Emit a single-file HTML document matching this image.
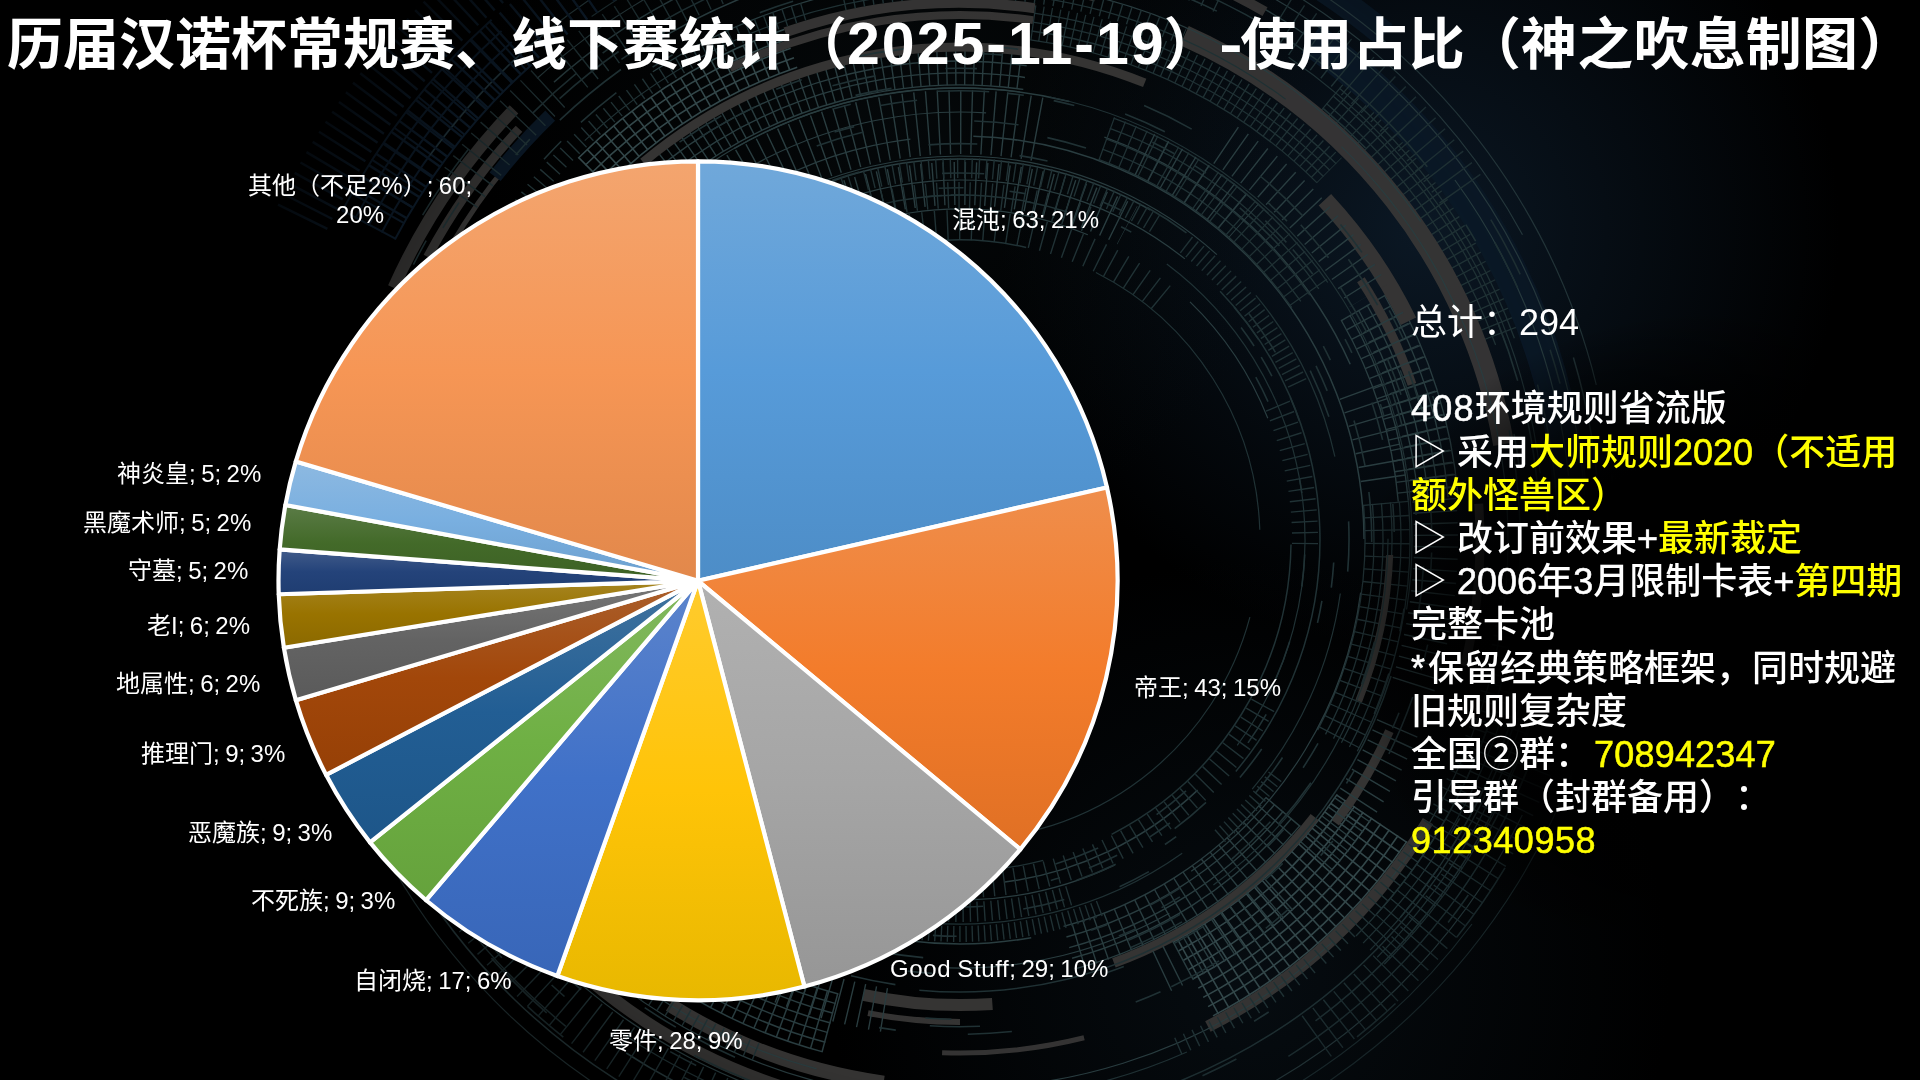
<!DOCTYPE html>
<html lang="zh-CN">
<head>
<meta charset="utf-8">
<title>历届汉诺杯常规赛、线下赛统计</title>
<style>
html,body{margin:0;padding:0;background:#000;}
body{width:1920px;height:1080px;position:relative;overflow:hidden;color:#fff;text-spacing-trim:space-all;
 font-family:"Liberation Sans","Noto Sans CJK SC",sans-serif;}
.bg,.pie{position:absolute;left:0;top:0;}
h1{position:absolute;left:6.5px;top:3px;margin:0;font-size:56px;line-height:84px;font-weight:700;white-space:nowrap;letter-spacing:0;}
h1 span{line-height:0;}
h1 .dt{font-size:59px;letter-spacing:2px;margin-right:-1.7px;}
h1 .hy{font-size:70px;display:inline-block;transform:scaleY(.78);position:relative;top:3.5px;margin:0 -2.4px 0 -.6px;}
.lb{position:absolute;font-size:24px;line-height:36px;white-space:nowrap;word-spacing:-1.2px;}
.side{position:absolute;left:1411px;top:301px;font-size:36px;line-height:43.2px;font-weight:500;white-space:nowrap;}
.side .n{font-weight:400;}
h1,.lb,.side{will-change:transform;}
.y{color:#FFFF00;}
.m{-webkit-text-stroke:.55px currentColor;}
</style>
</head>
<body>
<svg class="bg" width="1920" height="1080" viewBox="0 0 1920 1080">
<defs>
<radialGradient id="vg" gradientUnits="userSpaceOnUse" cx="980" cy="520" r="860">
<stop offset="0" stop-color="#fff"/><stop offset=".66" stop-color="#fff" stop-opacity=".95"/><stop offset=".8" stop-color="#fff" stop-opacity=".55"/><stop offset="1" stop-color="#fff" stop-opacity="0"/>
</radialGradient>
<radialGradient id="hz1" gradientUnits="userSpaceOnUse" cx="1420" cy="230" r="420">
<stop offset="0" stop-color="#0c1a28" stop-opacity=".9"/><stop offset="1" stop-color="#0c1a28" stop-opacity="0"/>
</radialGradient>
<radialGradient id="hz2" gradientUnits="userSpaceOnUse" cx="900" cy="120" r="420">
<stop offset="0" stop-color="#0a1216" stop-opacity=".45"/><stop offset="1" stop-color="#0a1216" stop-opacity="0"/>
</radialGradient>
<radialGradient id="hz3" gradientUnits="userSpaceOnUse" cx="1250" cy="980" r="420">
<stop offset="0" stop-color="#0a141c" stop-opacity=".6"/><stop offset="1" stop-color="#0a141c" stop-opacity="0"/>
</radialGradient>
<radialGradient id="sh" cx=".5" cy=".5" r=".5">
<stop offset="0" stop-color="#000"/><stop offset=".55" stop-color="#000"/><stop offset=".72" stop-color="#000" stop-opacity=".72"/><stop offset=".85" stop-color="#000" stop-opacity=".4"/><stop offset="1" stop-color="#000" stop-opacity="0"/>
</radialGradient>
<mask id="vm" maskUnits="userSpaceOnUse" x="0" y="0" width="1920" height="1080"><rect width="1920" height="1080" fill="url(#vg)"/></mask>
</defs>
<rect width="1920" height="1080" fill="url(#hz1)"/>
<rect width="1920" height="1080" fill="url(#hz2)"/>
<rect width="1920" height="1080" fill="url(#hz3)"/>
<g fill="none" mask="url(#vm)">
<path d="M606.4 186.4A500 500 0 0 1 797.2 67.2M599.4 179.4A510 510 0 0 1 794.0 57.8M592.3 172.3A520 520 0 0 1 790.7 48.3M585.2 165.2A530 530 0 0 1 787.4 38.9M578.2 158.2A540 540 0 0 1 784.2 29.4M1337.2 794.4A455 455 0 0 1 1173.6 941.7M1345.9 800.3A465.5 465.5 0 0 1 1178.5 951.0M1354.6 806.2A476 476 0 0 1 1183.5 960.3M1363.3 812.0A486.5 486.5 0 0 1 1188.4 969.6M1372.0 817.9A497 497 0 0 1 1193.3 978.8M1380.7 823.8A507.5 507.5 0 0 1 1198.3 988.1M1389.4 829.7A518 518 0 0 1 1203.2 997.4M1398.1 835.5A528.5 528.5 0 0 1 1208.1 1006.6M1406.9 841.4A539 539 0 0 1 1213.0 1015.9" stroke="#354a4d" stroke-width="1.6"/>
<path d="M592.3 172.3A520 520 0 0 1 790.7 48.3" stroke="#354a4d" stroke-width="40" stroke-dasharray="1.6 9.74"/>
<path d="M679.9 181.5A455 455 0 0 1 1023.3 89.4M672.5 172.0A467 467 0 0 1 1025.0 77.5M665.1 162.5A479 479 0 0 1 1026.7 65.7M1266.4 797.1A400 400 0 0 1 1063.5 926.4M1274.8 804.2A411 411 0 0 1 1066.4 937.0M1283.3 811.3A422 422 0 0 1 1069.2 947.6M1291.7 818.3A433 433 0 0 1 1072.1 958.2M1300.1 825.4A444 444 0 0 1 1074.9 968.9M1341.1 320.0A440 440 0 0 1 1398.3 501.7M1349.7 315.0A450 450 0 0 1 1408.3 500.8M1358.4 310.0A460 460 0 0 1 1418.2 499.9M1367.0 305.0A470 470 0 0 1 1428.2 499.0M1375.7 300.0A480 480 0 0 1 1438.2 498.2M1384.4 295.0A490 490 0 0 1 1448.1 497.3M1393.0 290.0A500 500 0 0 1 1458.1 496.4" stroke="#2b3f42" stroke-width="1.4"/>
<path d="M669.1 167.7A472.5 472.5 0 0 1 1025.8 72.1" stroke="#2b3f42" stroke-width="35" stroke-dasharray="1.4 7.67"/>
<path d="M1372.4 818.2A497.5 497.5 0 0 1 1193.6 979.3" stroke="#354a4d" stroke-width="85" stroke-dasharray="1.6 9.69"/>
<path d="M1283.7 811.6A422.5 422.5 0 0 1 1069.4 948.1" stroke="#2b3f42" stroke-width="45" stroke-dasharray="1.4 10.40"/>
<path d="M838.4 994.0A470 470 0 0 1 690.4 925.0M835.8 1003.6A480 480 0 0 1 684.7 933.2M833.2 1013.3A490 490 0 0 1 678.9 941.4M830.6 1023.0A500 500 0 0 1 673.2 949.6M828.0 1032.6A510 510 0 0 1 667.5 957.8M825.4 1042.3A520 520 0 0 1 661.7 966.0M822.8 1051.9A530 530 0 0 1 656.0 974.2M741.5 227.9A381 381 0 0 1 1150.5 210.0M734.0 148.6A452 452 0 0 1 1069.3 101.4M1197.6 790.1A345 345 0 0 1 1004.8 882.1M977.5 884.6A345 345 0 0 1 661.2 712.5M973.3 136.2A404 404 0 0 1 1364.0 538.9M1031.2 937.7A404 404 0 0 1 790.7 906.8M1104.4 137.1A428 428 0 0 1 1350.2 364.2M645.8 47.7A584 584 0 0 1 1082.2 -31.1M554.0 82.1A612 612 0 0 1 1376.3 91.4M1064.5 1143.0A612 612 0 0 1 626.2 1053.0M1573.4 357.5A640 640 0 0 1 1572.9 724.2M659.1 1104.8A640 640 0 0 1 405.7 860.0" stroke="#2b3f42" stroke-width="1.5"/>
<path d="M830.6 1023.0A500 500 0 0 1 673.2 949.6" stroke="#2b3f42" stroke-width="60" stroke-dasharray="1.5 9.84"/>
<path d="M1367.0 305.0A470 470 0 0 1 1428.2 499.0" stroke="#2b3f42" stroke-width="60" stroke-dasharray="1.4 10.08"/>
<path d="M1320.0 111.0A560 560 0 0 1 1486.2 348.5M1326.4 103.4A570 570 0 0 1 1495.6 345.0M1332.8 95.7A580 580 0 0 1 1505.0 341.6M1339.2 88.0A590 590 0 0 1 1514.4 338.2M1345.7 80.4A600 600 0 0 1 1523.8 334.8M1352.1 72.7A610 610 0 0 1 1533.2 331.4M1030.3 39.9A505 505 0 0 1 1317.1 182.9M1031.5 31.0A514 514 0 0 1 1323.5 176.5M1032.8 22.1A523 523 0 0 1 1329.8 170.2M1034.0 13.2A532 532 0 0 1 1336.2 163.8M1098.5 159.4A405 405 0 0 1 1291.8 307.7M1102.3 149.1A416 416 0 0 1 1300.8 301.4M1106.0 138.8A427 427 0 0 1 1309.8 295.1M1109.8 128.4A438 438 0 0 1 1318.8 288.8M1113.6 118.1A449 449 0 0 1 1327.8 282.5M1511.5 637.2A560 560 0 0 1 1356.0 936.0M1521.3 639.0A570 570 0 0 1 1363.1 943.1M1531.2 640.7A580 580 0 0 1 1370.1 950.1M1541.0 642.5A590 590 0 0 1 1377.2 957.2M1550.9 644.2A600 600 0 0 1 1384.3 964.3M1363.5 504.7A405 405 0 0 1 1317.6 730.1M1372.4 503.9A414 414 0 0 1 1325.5 734.4M1381.4 503.1A423 423 0 0 1 1333.5 738.6M1390.4 502.3A432 432 0 0 1 1341.4 742.8M1399.3 501.6A441 441 0 0 1 1349.4 747.0M1408.3 500.8A450 450 0 0 1 1357.3 751.3" stroke="#213336" stroke-width="1.3"/>
<path d="M1336.0 91.9A585 585 0 0 1 1509.7 339.9" stroke="#213336" stroke-width="50" stroke-dasharray="1.3 8.91"/>
<path d="M1032.7 22.6A522.5 522.5 0 0 1 1329.5 170.5" stroke="#213336" stroke-width="35" stroke-dasharray="1.3 6.91"/>
<path d="M1106.2 138.3A427.5 427.5 0 0 1 1310.2 294.8" stroke="#213336" stroke-width="45" stroke-dasharray="1.3 9.89"/>
<path d="M1531.2 640.7A580 580 0 0 1 1370.1 950.1" stroke="#213336" stroke-width="40" stroke-dasharray="1.3 9.84"/>
<path d="M394.9 239.5A640 640 0 0 1 531.8 64.4M381.7 232.5A655 655 0 0 1 521.7 53.2M368.4 225.5A670 670 0 0 1 511.7 42.1M355.2 218.4A685 685 0 0 1 501.6 30.9M341.9 211.4A700 700 0 0 1 491.6 19.8" stroke="#0f2031" stroke-width="2"/>
<path d="M368.4 225.5A670 670 0 0 1 511.7 42.1" stroke="#0f2031" stroke-width="60" stroke-dasharray="2 16.71"/>
<path d="M1385.9 502.7A427.5 427.5 0 0 1 1337.5 740.7" stroke="#213336" stroke-width="45" stroke-dasharray="1.3 12.13"/>
<path d="M755.5 248.0A356.5 356.5 0 0 1 1127.4 225.2" stroke="#2b3f42" stroke-width="43" stroke-dasharray="1.4 9.18"/>
<path d="M751.0 178.0A418 418 0 0 1 1046.9 131.1" stroke="#2b3f42" stroke-width="64" stroke-dasharray="1.4 9.54"/>
<path d="M852.3 244.0A315 315 0 0 1 1162.5 298.7" stroke="#213336" stroke-width="30" stroke-dasharray="1.4 10.70"/>
<path d="M643.1 162.3A493 493 0 0 1 1144.7 82.9M427.6 256.9A603 603 0 0 1 519.0 128.8M1389.4 731.2A470 470 0 0 1 1335.4 822.9M1360.9 279.7A478 478 0 0 1 1412.0 384.4M1478.7 503.7A520 520 0 0 1 1464.6 665.8" stroke="#373635" stroke-width="9"/>
<path d="M785.2 32.3A537 537 0 0 1 1034.7 8.2M1314.6 817.0A450 450 0 0 1 1113.9 962.9M843.6 -7.8A560 560 0 0 1 1095.5 -3.4M1023.8 -66.7A610 610 0 0 1 1265.0 11.7" stroke="#373635" stroke-width="10"/>
<path d="M729.9 68.1A525 525 0 0 1 1033.1 20.1" stroke="#373635" stroke-width="8"/>
<path d="M1184.5 35.7A552 552 0 0 1 1503.6 444.1" stroke="#373635" stroke-width="21"/>
<path d="M393.6 287.8A620 620 0 0 1 514.0 109.3M1428.0 821.2A546 546 0 0 1 1207.9 1026.5M782.3 1086.9A575 575 0 0 1 575.2 967.3M992.4 1003.9A465 465 0 0 1 863.3 994.8" stroke="#373635" stroke-width="12"/>
<path d="M450.8 246.0A588 588 0 0 1 509.6 162.0M1084.1 1037.8A513 513 0 0 1 942.1 1052.7" stroke="#373635" stroke-width="5"/>
<path d="M883.7 1082.7A548 548 0 0 1 669.6 1004.7M909.0 -42.8A585 585 0 0 1 1081.6 -32.2" stroke="#373635" stroke-width="14"/>
<path d="M960.0 1022.0A482 482 0 0 1 868.0 1013.1" stroke="#373635" stroke-width="6"/>
<path d="M1324.9 199.7A499 499 0 0 1 1408.5 321.3" stroke="#373635" stroke-width="17"/>
<path d="M1389.7 555.0A430 430 0 0 1 1358.7 701.1" stroke="#373635" stroke-width="7"/>
<path d="M1311.0 38.7A612 612 0 0 1 1569.7 486.7" stroke="#0a1826" stroke-width="34"/>
<path d="M495.1 176.8A590 590 0 0 1 550.2 115.6" stroke="#0a1826" stroke-width="14"/>
<path d="M1074.6 -110.0A660 660 0 0 1 1384.2 34.4" stroke="#0a1826" stroke-width="26"/>
<path d="M742.6 333.2A300 300 0 0 1 1026.2 247.4M1291.0 544.5A331 331 0 0 1 1111.6 834.3M737.7 276.2A345 345 0 0 1 1031.1 202.4M1220.1 291.2A360 360 0 0 1 1235.8 771.4M675.5 826.8A404 404 0 0 1 610.1 742.0M1391.1 675.9A452 452 0 0 1 919.3 990.2M1509.1 430.1A560 560 0 0 1 1376.7 914.1M1536.7 631.8A584 584 0 0 1 1132.8 1097.9M659.2 23.2A598 598 0 0 1 1427.3 166.8M1537.5 384.6A598 598 0 0 1 1315.5 1020.9M1554.9 683.6A612 612 0 0 1 1288.4 1056.4M565.8 1026.3A626 626 0 0 1 417.9 853.0" stroke="#213336" stroke-width="1.5"/>
<path d="M1095.9 272.5A300 300 0 0 1 1259.8 529.8M1249.9 617.2A300 300 0 0 1 957.8 840.0M907.5 835.4A300 300 0 0 1 781.8 781.4M1043.2 860.4A331 331 0 0 1 673.3 705.5M1166.8 263.9A345 345 0 0 1 1237.2 745.4M716.8 805.4A360 360 0 0 1 648.2 720.0M1255.9 295.3A384 384 0 0 1 1334.9 456.7M1340.3 593.5A384 384 0 0 1 1252.2 789.1M1182.2 853.2A384 384 0 0 1 650.9 767.8M1388.0 538.8A428 428 0 0 1 1213.4 885.0M810.3 941.0A428 428 0 0 1 624.7 806.0M1049.8 97.0A452 452 0 0 1 1406.6 609.5M584.7 140.6A548 548 0 0 1 1285.6 99.2M1186.9 1052.0A560 560 0 0 1 983.6 1099.5M1288.6 57.2A584 584 0 0 1 1540.2 473.3M1196.5 1089.3A598 598 0 0 1 620.5 1032.3M1086.3 1153.1A626 626 0 0 1 669.8 1094.7M591.6 16.6A640 640 0 0 1 1008.3 -98.2M1472.0 924.0A640 640 0 0 1 713.6 1130.7M1611.7 474.6A655 655 0 0 1 1197.1 1150.6" stroke="#213336" stroke-width="1.2"/>
<path d="M745.6 287.9A331 331 0 0 1 1087.8 234.7M1190.0 301.9A331 331 0 0 1 1267.8 418.3M690.8 301.0A360 360 0 0 1 1184.9 258.9M1114.6 865.1A360 360 0 0 1 822.9 872.9M761.8 211.1A384 384 0 0 1 1216.9 254.6M623.1 317.0A404 404 0 0 1 910.4 139.1M1360.6 592.6A404 404 0 0 1 1191.2 871.3M599.8 308.8A428 428 0 0 1 986.1 112.8M1169.3 913.3A428 428 0 0 1 948.7 967.9M658.2 203.5A452 452 0 0 1 1019.8 92.0M808.4 965.8A452 452 0 0 1 568.6 766.0M1341.5 146.6A548 548 0 0 1 1390.8 878.6M1333.1 941.4A548 548 0 0 1 881.0 1082.3M816.6 1068.9A548 548 0 0 1 485.4 814.0M652.8 71.8A560 560 0 0 1 1420.7 221.7M939.8 1099.6A560 560 0 0 1 572.1 943.9M540.6 911.1A560 560 0 0 1 475.0 820.0M974.2 1123.8A584 584 0 0 1 454.2 832.0M496.4 917.8A598 598 0 0 1 442.1 839.0M1454.9 180.0A612 612 0 0 1 1568.6 475.9M491.1 933.3A612 612 0 0 1 430.0 846.0M537.0 78.5A626 626 0 0 1 956.1 -86.0M1106.9 -68.5A626 626 0 0 1 1585.6 563.7M1522.3 815.1A626 626 0 0 1 1220.2 1109.4M1177.7 -61.8A640 640 0 0 1 1522.5 234.8M430.0 155.2A655 655 0 0 1 951.3 -114.9M1171.6 -79.9A655 655 0 0 1 1596.3 384.8M954.9 1195.0A655 655 0 0 1 392.8 867.5" stroke="#2b3f42" stroke-width="1.2"/>
<path d="M689.6 325.8A345 345 0 0 1 814.9 227.0" stroke="#213336" stroke-width="26" stroke-dasharray="1.4 9.44"/>
<path d="M821.4 224.1A345 345 0 0 1 1089.4 220.2" stroke="#213336" stroke-width="26" stroke-dasharray="1.4 9.44"/>
<path d="M1277.7 405.5A345 345 0 0 1 1304.8 552.6" stroke="#213336" stroke-width="26" stroke-dasharray="1.4 9.44"/>
<path d="M1263.1 704.8A345 345 0 0 1 1045.5 874.2" stroke="#213336" stroke-width="26" stroke-dasharray="1.4 9.44"/>
<path d="M1037.0 876.3A345 345 0 0 1 876.9 874.8" stroke="#213336" stroke-width="26" stroke-dasharray="1.4 9.44"/>
<path d="M714.0 261.0A372 372 0 0 1 854.9 183.2" stroke="#213336" stroke-width="20" stroke-dasharray="1.4 5.74"/>
<path d="M865.2 180.3A372 372 0 0 1 1158.2 225.2" stroke="#213336" stroke-width="20" stroke-dasharray="1.4 5.74"/>
<path d="M1185.9 244.5A372 372 0 0 1 1299.0 386.9" stroke="#213336" stroke-width="20" stroke-dasharray="1.4 5.74"/>
<path d="M1069.3 895.6A372 372 0 0 1 828.7 888.1" stroke="#213336" stroke-width="20" stroke-dasharray="1.4 5.74"/>
<path d="M1275.3 776.3A394 394 0 0 1 1218.3 837.5" stroke="#213336" stroke-width="16" stroke-dasharray="1.4 4.79"/>
<path d="M1099.9 908.3A394 394 0 0 1 770.2 885.3" stroke="#213336" stroke-width="16" stroke-dasharray="1.4 4.79"/>
<path d="M585.0 334.7A427.5 427.5 0 0 1 742.6 171.9" stroke="#2b3f42" stroke-width="45" stroke-dasharray="1.4 13.52"/>
<path d="M1144.3 154.3A427.5 427.5 0 0 1 1244.2 220.7" stroke="#2b3f42" stroke-width="45" stroke-dasharray="1.4 13.52"/>
<path d="M1360.7 391.0A427.5 427.5 0 0 1 1384.3 487.5" stroke="#2b3f42" stroke-width="45" stroke-dasharray="1.4 13.52"/>
<path d="M1225.5 144.9A476 476 0 0 1 1368.5 295.6" stroke="#2b3f42" stroke-width="44" stroke-dasharray="1.4 10.23"/>
<path d="M1383.1 321.9A476 476 0 0 1 1411.2 691.6" stroke="#2b3f42" stroke-width="44" stroke-dasharray="1.4 10.23"/>
<path d="M1397.4 727.8A476 476 0 0 1 1310.2 862.4" stroke="#2b3f42" stroke-width="44" stroke-dasharray="1.4 10.23"/>
<path d="M1278.7 893.5A476 476 0 0 1 1161.2 971.4" stroke="#2b3f42" stroke-width="44" stroke-dasharray="1.4 10.23"/>
<path d="M884.6 1010.0A476 476 0 0 1 606.9 859.2" stroke="#2b3f42" stroke-width="44" stroke-dasharray="1.4 10.23"/>
<path d="M586.6 835.3A476 476 0 0 1 570.1 813.0" stroke="#2b3f42" stroke-width="44" stroke-dasharray="1.4 10.23"/>
<path d="M484.6 261.5A551 551 0 0 1 804.1 11.5" stroke="#213336" stroke-width="18" stroke-dasharray="1.4 8.22"/>
<path d="M843.5 1.5A551 551 0 0 1 1183.3 36.3" stroke="#213336" stroke-width="18" stroke-dasharray="1.4 8.22"/>
<path d="M1510.2 569.3A551 551 0 0 1 1318.3 958.6" stroke="#213336" stroke-width="18" stroke-dasharray="1.4 8.22"/>
<path d="M1309.9 965.6A551 551 0 0 1 1175.8 1047.0" stroke="#213336" stroke-width="18" stroke-dasharray="1.4 8.22"/>
<path d="M756.2 1051.9A551 551 0 0 1 625.5 977.8" stroke="#213336" stroke-width="18" stroke-dasharray="1.4 8.22"/>
<path d="M606.3 962.5A551 551 0 0 1 508.6 856.0" stroke="#213336" stroke-width="18" stroke-dasharray="1.4 8.22"/>
<path d="M456.5 193.8A611 611 0 0 1 551.7 85.5" stroke="#213336" stroke-width="50" stroke-dasharray="1.4 12.46"/>
<path d="M571.4 68.5A611 611 0 0 1 814.0 -53.3" stroke="#213336" stroke-width="50" stroke-dasharray="1.4 12.46"/>
<path d="M871.9 -64.6A611 611 0 0 1 1234.4 -5.9" stroke="#213336" stroke-width="50" stroke-dasharray="1.4 12.46"/>
<path d="M1278.7 18.7A611 611 0 0 1 1465.0 196.1" stroke="#213336" stroke-width="50" stroke-dasharray="1.4 12.46"/>
<path d="M1527.7 766.0A611 611 0 0 1 1307.3 1042.7" stroke="#213336" stroke-width="50" stroke-dasharray="1.4 12.46"/>
<path d="M823.8 1135.6A611 611 0 0 1 459.5 890.5" stroke="#213336" stroke-width="50" stroke-dasharray="1.4 12.46"/>
<path d="M380.2 204.2A670 670 0 0 1 586.7 -16.4" stroke="#0f2031" stroke-width="60" stroke-dasharray="2.4 10.46"/>
<path d="M597.3 -23.4A670 670 0 0 1 810.3 -113.1" stroke="#0f2031" stroke-width="60" stroke-dasharray="2.4 10.46"/>
<path d="M865.3 -123.3A670 670 0 0 1 1137.2 -106.1" stroke="#0f2031" stroke-width="60" stroke-dasharray="2.4 10.46"/>
<path d="M302.2 217.8A732.5 732.5 0 0 1 765.8 -166.3" stroke="#0f2031" stroke-width="55" stroke-dasharray="2.4 9.11"/>
<path d="M781.9 -170.5A732.5 732.5 0 0 1 1129.2 -172.7" stroke="#0f2031" stroke-width="55" stroke-dasharray="2.4 9.11"/>
<path d="M675.3 358.4A337.667 337.667 0 0 1 682.5 347.6M759.2 268.5A337.667 337.667 0 0 1 766.8 263.1M1255.8 377.1A337.667 337.667 0 0 1 1268.0 401.6M1186.0 790.9A337.667 337.667 0 0 1 1156.6 814.6M1098.2 848.1A337.667 337.667 0 0 1 1055.5 863.9M923.1 875.6A337.667 337.667 0 0 1 900.6 872.4M727.7 785.1A337.667 337.667 0 0 1 717.7 775.2M661.4 367.1A345 345 0 0 1 684.7 332.0M757.6 260.6A345 345 0 0 1 774.1 249.4M922.9 197.0A345 345 0 0 1 942.1 195.5M950.6 195.1A345 345 0 0 1 968.3 195.1M1024.1 201.0A345 345 0 0 1 1067.4 212.1M1299.5 478.4A345 345 0 0 1 1301.8 493.1M1304.7 554.4A345 345 0 0 1 1301.8 586.6M1289.7 641.5A345 345 0 0 1 1275.2 680.2M737.1 267.2A352.333 352.333 0 0 1 760.9 249.3M938.7 188.3A352.333 352.333 0 0 1 963.5 187.7M1009.5 191.2A352.333 352.333 0 0 1 1025.5 193.8M1121.1 226.7A352.333 352.333 0 0 1 1131.3 232.1M1241.1 327.5A352.333 352.333 0 0 1 1254.1 346.0M1261.2 357.2A352.333 352.333 0 0 1 1271.9 376.2M1266.2 714.3A352.333 352.333 0 0 1 1248.0 742.9M1169.9 823.0A352.333 352.333 0 0 1 1149.9 836.8M1117.2 855.3A352.333 352.333 0 0 1 1089.0 867.9M1060.0 877.8A352.333 352.333 0 0 1 1050.8 880.4M983.2 891.6A352.333 352.333 0 0 1 937.4 891.6M729.0 806.0A352.333 352.333 0 0 1 713.3 791.6M662.3 338.2A359.667 359.667 0 0 1 686.6 306.3M1234.0 307.0A359.667 359.667 0 0 1 1258.7 339.6M1290.2 397.3A359.667 359.667 0 0 1 1299.5 421.3M1206.0 802.3A359.667 359.667 0 0 1 1174.7 828.6M1115.7 864.2A359.667 359.667 0 0 1 1076.5 880.3M976.5 899.3A359.667 359.667 0 0 1 943.7 899.3M923.4 897.8A359.667 359.667 0 0 1 877.3 890.0M690.9 778.7A359.667 359.667 0 0 1 684.3 770.9M820.4 200.6A367 367 0 0 1 832.0 196.0M942.0 173.4A367 367 0 0 1 984.2 173.8M1103.5 202.2A367 367 0 0 1 1123.4 211.4M1248.8 313.5A367 367 0 0 1 1275.4 352.4M1321.9 600.9A367 367 0 0 1 1317.5 622.9M1261.7 749.0A367 367 0 0 1 1239.9 777.4M1176.2 836.6A367 367 0 0 1 1164.9 844.5M983.2 906.3A367 367 0 0 1 965.0 907.0M770.8 854.5A367 367 0 0 1 735.8 830.5M680.9 778.3A367 367 0 0 1 661.4 753.4M656.0 321.6A374.333 374.333 0 0 1 670.5 302.6M679.6 292.0A374.333 374.333 0 0 1 707.7 263.5M742.9 235.1A374.333 374.333 0 0 1 761.6 222.6M1333.7 562.5A374.333 374.333 0 0 1 1331.3 587.6M1064.3 899.5A374.333 374.333 0 0 1 1023.2 909.0M699.7 260.9A381.667 381.667 0 0 1 734.9 231.8M832.3 180.3A381.667 381.667 0 0 1 859.2 171.9M1147.4 207.5A381.667 381.667 0 0 1 1186.5 232.8M1148.9 871.6A381.667 381.667 0 0 1 1119.6 886.7M714.7 832.4A381.667 381.667 0 0 1 679.3 798.6M1019.5 155.6A389 389 0 0 1 1047.5 161.0M1310.2 370.7A389 389 0 0 1 1328.9 416.7M1348.6 521.4A389 389 0 0 1 1347.7 571.6M1282.5 757.5A389 389 0 0 1 1255.2 793.3M620.4 335.7A396.333 396.333 0 0 1 632.3 317.0M928.5 144.9A396.333 396.333 0 0 1 977.3 144.0M1316.0 365.9A396.333 396.333 0 0 1 1327.2 390.9M956.6 936.3A396.333 396.333 0 0 1 932.9 935.4M861.9 924.0A396.333 396.333 0 0 1 834.0 915.8M723.1 857.7A396.333 396.333 0 0 1 707.2 845.3M722.4 203.7A411.75 411.75 0 0 1 746.2 188.1M1047.4 137.6A411.75 411.75 0 0 1 1086.0 148.0M1323.3 346.2A411.75 411.75 0 0 1 1330.4 360.2M1354.0 420.4A411.75 411.75 0 0 1 1365.1 466.1M1368.9 492.0A411.75 411.75 0 0 1 1371.7 541.9M1318.0 743.3A411.75 411.75 0 0 1 1303.1 767.7M1179.6 888.3A411.75 411.75 0 0 1 1150.4 905.1M1106.9 924.7A411.75 411.75 0 0 1 1091.1 930.3M684.4 224.1A419.25 419.25 0 0 1 705.9 206.5M816.7 146.0A419.25 419.25 0 0 1 863.6 132.0M974.2 121.0A419.25 419.25 0 0 1 1018.5 124.8M1270.4 821.8A419.25 419.25 0 0 1 1231.8 859.2M1179.9 896.9A419.25 419.25 0 0 1 1161.6 907.6M923.2 957.6A419.25 419.25 0 0 1 880.2 951.6M834.5 940.0A419.25 419.25 0 0 1 803.0 928.7M752.6 904.3A419.25 419.25 0 0 1 732.2 892.0M717.0 189.2A426.75 426.75 0 0 1 730.5 180.2M834.5 132.1A426.75 426.75 0 0 1 854.2 126.6M1374.5 641.6A426.75 426.75 0 0 1 1361.5 684.5M1310.9 782.8A426.75 426.75 0 0 1 1278.4 824.1M1136.2 928.7A426.75 426.75 0 0 1 1118.8 936.1M846.9 951.5A426.75 426.75 0 0 1 794.0 933.1M713.6 888.4A426.75 426.75 0 0 1 679.0 861.2M722.3 176.6A434.25 434.25 0 0 1 739.1 166.1M1239.8 207.9A434.25 434.25 0 0 1 1279.5 245.9M1345.0 339.2A434.25 434.25 0 0 1 1351.9 352.9M1371.9 402.5A434.25 434.25 0 0 1 1382.6 439.9M1392.8 504.0A434.25 434.25 0 0 1 1394.2 531.9M1283.6 829.6A434.25 434.25 0 0 1 1267.3 846.9M1180.0 914.4A434.25 434.25 0 0 1 1128.4 940.3M932.2 973.4A434.25 434.25 0 0 1 907.6 971.1M692.3 881.9A434.25 434.25 0 0 1 673.5 866.3M880.5 105.5A441.75 441.75 0 0 1 917.1 100.3M1152.4 142.3A441.75 441.75 0 0 1 1174.4 153.8M1194.2 165.4A441.75 441.75 0 0 1 1205.9 173.0M1265.3 220.7A441.75 441.75 0 0 1 1286.4 242.4M1292.8 249.5A441.75 441.75 0 0 1 1312.7 274.1M1380.3 404.1A441.75 441.75 0 0 1 1384.0 416.1M1182.0 921.9A441.75 441.75 0 0 1 1130.8 947.4M569.1 318.7A449.25 449.25 0 0 1 582.6 296.2M834.0 108.8A449.25 449.25 0 0 1 850.8 104.2M937.2 91.3A449.25 449.25 0 0 1 989.2 91.7M1006.9 93.2A449.25 449.25 0 0 1 1023.8 95.3M1053.7 100.6A449.25 449.25 0 0 1 1074.3 105.5M1221.7 174.9A449.25 449.25 0 0 1 1268.6 213.5M1404.0 608.7A449.25 449.25 0 0 1 1399.9 631.3M1388.9 673.6A449.25 449.25 0 0 1 1374.2 714.0M895.4 984.6A449.25 449.25 0 0 1 851.0 975.8M826.0 968.8A449.25 449.25 0 0 1 778.5 950.9M727.1 924.2A449.25 449.25 0 0 1 715.4 916.8M642.6 858.0A449.25 449.25 0 0 1 634.1 849.2M553.0 332.6A456.75 456.75 0 0 1 560.4 318.8M581.7 284.0A456.75 456.75 0 0 1 607.9 249.0M620.8 234.1A456.75 456.75 0 0 1 633.4 220.7M855.5 95.4A456.75 456.75 0 0 1 891.5 88.4M1125.1 114.1A456.75 456.75 0 0 1 1164.9 131.8M1268.0 202.7A456.75 456.75 0 0 1 1287.0 221.1M1340.4 287.2A456.75 456.75 0 0 1 1366.6 331.9M1392.2 392.2A456.75 456.75 0 0 1 1402.3 426.2M1415.2 502.3A456.75 456.75 0 0 1 1416.1 515.0M1354.6 770.1A456.75 456.75 0 0 1 1346.4 783.5M1282.6 863.4A456.75 456.75 0 0 1 1265.5 879.5M1204.0 926.1A456.75 456.75 0 0 1 1174.3 943.4M1123.8 966.4A456.75 456.75 0 0 1 1107.2 972.4M728.2 933.6A456.75 456.75 0 0 1 684.1 904.0M662.6 183.5A464.25 464.25 0 0 1 690.3 162.2M1300.7 224.7A464.25 464.25 0 0 1 1328.5 257.7M1387.3 358.6A464.25 464.25 0 0 1 1401.0 394.8M1423.5 566.0A464.25 464.25 0 0 1 1418.1 615.3M773.3 965.0A464.25 464.25 0 0 1 732.9 944.9M681.4 911.3A464.25 464.25 0 0 1 662.8 896.6M832.4 85.8A471.75 471.75 0 0 1 875.4 75.9M945.4 68.5A471.75 471.75 0 0 1 976.9 68.6M1144.1 105.6A471.75 471.75 0 0 1 1191.7 129.1M1260.1 176.0A471.75 471.75 0 0 1 1302.5 215.6M1400.2 370.3A471.75 471.75 0 0 1 1410.8 400.8M1430.5 505.0A471.75 471.75 0 0 1 1431.7 530.7M1431.6 552.5A471.75 471.75 0 0 1 1430.6 573.2M1399.0 712.8A471.75 471.75 0 0 1 1392.5 728.3M529.8 328.9A479.25 479.25 0 0 1 559.3 277.0M699.7 137.6A479.25 479.25 0 0 1 754.8 106.9M1348.4 259.2A479.25 479.25 0 0 1 1377.7 305.1M1408.6 371.3A479.25 479.25 0 0 1 1419.4 403.6M1427.7 644.6A479.25 479.25 0 0 1 1421.2 670.2M1412.8 696.9A479.25 479.25 0 0 1 1388.9 753.9M1332.8 841.1A479.25 479.25 0 0 1 1320.6 855.6M951.4 1019.2A479.25 479.25 0 0 1 925.4 1018.0M736.0 963.7A479.25 479.25 0 0 1 717.3 953.2M588.2 225.8A486.75 486.75 0 0 1 610.0 201.7M679.5 142.2A486.75 486.75 0 0 1 721.4 115.7M776.2 89.3A486.75 486.75 0 0 1 801.7 79.7M982.9 53.8A486.75 486.75 0 0 1 1002.8 55.1M1389.2 310.4A486.75 486.75 0 0 1 1403.3 339.0M980.0 1026.3A486.75 486.75 0 0 1 929.8 1025.8M728.8 968.4A486.75 486.75 0 0 1 712.8 959.3M690.4 945.2A486.75 486.75 0 0 1 649.4 914.8M581.8 846.4A486.75 486.75 0 0 1 545.8 795.6M521.8 311.3A494.25 494.25 0 0 1 534.1 289.2M848.9 58.4A494.25 494.25 0 0 1 904.1 48.9M999.2 47.3A494.25 494.25 0 0 1 1018.2 49.2M1340.5 224.6A494.25 494.25 0 0 1 1361.9 252.4M1432.8 396.1A494.25 494.25 0 0 1 1439.9 421.7M1440.4 656.0A494.25 494.25 0 0 1 1434.2 679.4M1289.1 908.7A494.25 494.25 0 0 1 1265.8 928.3M1219.1 960.9A494.25 494.25 0 0 1 1171.3 986.8M1160.5 991.7A494.25 494.25 0 0 1 1135.7 1002.0M1011.9 1031.5A494.25 494.25 0 0 1 967.8 1034.2M895.8 1030.1A494.25 494.25 0 0 1 879.1 1027.6M544.0 159.2A564 564 0 0 1 561.2 141.2M580.9 122.4A564 564 0 0 1 616.4 92.7M652.6 67.2A564 564 0 0 1 672.6 54.7M759.8 12.7A564 564 0 0 1 793.1 1.3M827.3 -8.2A564 564 0 0 1 886.0 -19.1M1323.1 108.4A564 564 0 0 1 1365.5 148.0M1514.0 434.0A564 564 0 0 1 1519.0 465.1M1268.7 1012.0A564 564 0 0 1 1254.1 1021.2M735.0 1057.2A564 564 0 0 1 686.7 1033.3M675.8 1027.1A564 564 0 0 1 644.7 1007.7M1523.9 635.6A572 572 0 0 1 1520.5 654.3M1517.7 667.0A572 572 0 0 1 1504.5 715.1M1459.7 818.4A572 572 0 0 1 1450.8 833.7M997.5 1110.8A572 572 0 0 1 974.2 1111.8M559.8 120.2A580 580 0 0 1 620.9 69.5M1498.1 323.4A580 580 0 0 1 1517.7 380.8M1527.3 419.4A580 580 0 0 1 1537.3 484.6M1539.9 531.2A580 580 0 0 1 1539.9 549.9M1507.7 731.0A580 580 0 0 1 1501.1 748.7M1487.8 780.4A580 580 0 0 1 1449.5 851.0M1438.0 868.5A580 580 0 0 1 1400.5 917.3M763.4 1085.7A580 580 0 0 1 694.3 1055.5M515.7 154.9A588 588 0 0 1 529.9 139.1M621.4 59.3A588 588 0 0 1 669.0 29.0M1007.2 -46.1A588 588 0 0 1 1026.3 -44.2M1143.8 -18.5A588 588 0 0 1 1216.8 11.1M1546.9 504.7A588 588 0 0 1 1547.7 557.7M1236.4 1059.0A588 588 0 0 1 1202.5 1075.7M948.2 1127.9A588 588 0 0 1 875.1 1121.8M807.2 1107.8A588 588 0 0 1 750.6 1089.4M696.2 1065.5A588 588 0 0 1 670.2 1051.6M581.1 989.6A588 588 0 0 1 539.4 950.9M559.6 98.6A596 596 0 0 1 618.6 51.5M1135.7 -29.5A596 596 0 0 1 1177.6 -14.8M1465.8 224.7A596 596 0 0 1 1475.6 241.1M1551.0 617.4A596 596 0 0 1 1547.0 643.3M1009.3 1134.0A596 596 0 0 1 987.1 1135.4M763.8 1102.8A596 596 0 0 1 726.3 1088.3M442.9 227.9A604 604 0 0 1 459.0 202.6M532.7 113.1A604 604 0 0 1 576.7 73.2M602.6 53.1A604 604 0 0 1 616.6 43.1M1069.0 -54.1A604 604 0 0 1 1131.1 -39.3M1508.1 793.8A604 604 0 0 1 1485.9 837.1M701.2 1085.7A604 604 0 0 1 684.3 1077.4M564.5 996.5A604 604 0 0 1 551.6 985.0M413.4 264.7A612 612 0 0 1 426.2 240.6M693.8 -11.1A612 612 0 0 1 754.5 -36.5M1494.8 242.5A612 612 0 0 1 1517.7 287.9M1537.1 743.7A612 612 0 0 1 1517.3 792.8M1137.8 1125.6A612 612 0 0 1 1074.5 1141.2M1490.8 219.6A620 620 0 0 1 1520.2 274.4M1550.1 349.8A620 620 0 0 1 1560.0 383.6M1468.3 895.0A620 620 0 0 1 1448.1 922.4M1181.3 1119.2A620 620 0 0 1 1152.5 1129.4M940.8 1159.7A620 620 0 0 1 890.6 1156.1M816.4 1143.1A620 620 0 0 1 736.4 1118.3M501.8 957.7A620 620 0 0 1 475.3 926.6M422.6 215.1A628 628 0 0 1 468.4 149.3M695.8 -29.7A628 628 0 0 1 750.1 -51.9M847.6 -77.9A628 628 0 0 1 900.8 -85.2M1138.2 -62.2A628 628 0 0 1 1203.8 -38.8M1581.9 452.7A628 628 0 0 1 1586.0 490.1M829.4 1154.3A628 628 0 0 1 773.6 1139.7M546.7 1012.9A628 628 0 0 1 491.4 958.1M804.5 -76.7A636 636 0 0 1 877.6 -90.6M1039.5 -91.0A636 636 0 0 1 1095.9 -81.3M1505.0 867.9A636 636 0 0 1 1456.7 937.2M1395.5 1003.5A636 636 0 0 1 1357.0 1036.9M1289.3 1084.1A636 636 0 0 1 1220.1 1120.4M734.0 1134.5A636 636 0 0 1 702.5 1121.5M563.3 1037.1A636 636 0 0 1 527.5 1006.3" stroke="#213336" stroke-width="1.6"/>
</g>
<ellipse cx="1720" cy="640" rx="380" ry="330" fill="url(#sh)"/>
</svg>
<svg class="pie" width="1920" height="1080" viewBox="0 0 1920 1080">
<defs>
<linearGradient id="g0" x1="0" y1="0" x2="0" y2="1"><stop offset="0" stop-color="#70A8DA"/><stop offset=".5" stop-color="#579BD9"/><stop offset="1" stop-color="#4D8DC7"/></linearGradient>
<linearGradient id="g1" x1="0" y1="0" x2="0" y2="1"><stop offset="0" stop-color="#EF8E4C"/><stop offset=".5" stop-color="#F37C2B"/><stop offset="1" stop-color="#E07024"/></linearGradient>
<linearGradient id="g2" x1="0" y1="0" x2="0" y2="1"><stop offset="0" stop-color="#B1B1B1"/><stop offset=".5" stop-color="#A5A5A5"/><stop offset="1" stop-color="#969696"/></linearGradient>
<linearGradient id="g3" x1="0" y1="0" x2="0" y2="1"><stop offset="0" stop-color="#FFCB2E"/><stop offset=".5" stop-color="#FFC408"/><stop offset="1" stop-color="#E8B800"/></linearGradient>
<linearGradient id="g4" x1="0" y1="0" x2="0" y2="1"><stop offset="0" stop-color="#5C84CC"/><stop offset=".5" stop-color="#4071C8"/><stop offset="1" stop-color="#3866B8"/></linearGradient>
<linearGradient id="g5" x1="0" y1="0" x2="0" y2="1"><stop offset="0" stop-color="#83B85F"/><stop offset=".5" stop-color="#6FB044"/><stop offset="1" stop-color="#65A23C"/></linearGradient>
<linearGradient id="g6" x1="0" y1="0" x2="0" y2="1"><stop offset="0" stop-color="#41739F"/><stop offset=".5" stop-color="#225E94"/><stop offset="1" stop-color="#1D5689"/></linearGradient>
<linearGradient id="g7" x1="0" y1="0" x2="0" y2="1"><stop offset="0" stop-color="#AB602D"/><stop offset=".5" stop-color="#A2470A"/><stop offset="1" stop-color="#964006"/></linearGradient>
<linearGradient id="g8" x1="0" y1="0" x2="0" y2="1"><stop offset="0" stop-color="#777777"/><stop offset=".5" stop-color="#636363"/><stop offset="1" stop-color="#5A5A5A"/></linearGradient>
<linearGradient id="g9" x1="0" y1="0" x2="0" y2="1"><stop offset="0" stop-color="#A68521"/><stop offset=".5" stop-color="#997300"/><stop offset="1" stop-color="#8B6900"/></linearGradient>
<linearGradient id="g10" x1="0" y1="0" x2="0" y2="1"><stop offset="0" stop-color="#425C8A"/><stop offset=".5" stop-color="#24437A"/><stop offset="1" stop-color="#1F3D71"/></linearGradient>
<linearGradient id="g11" x1="0" y1="0" x2="0" y2="1"><stop offset="0" stop-color="#5B7C47"/><stop offset=".5" stop-color="#436A29"/><stop offset="1" stop-color="#3C6124"/></linearGradient>
<linearGradient id="g12" x1="0" y1="0" x2="0" y2="1"><stop offset="0" stop-color="#8DB9E1"/><stop offset=".5" stop-color="#79AFE0"/><stop offset="1" stop-color="#6C9FCE"/></linearGradient>
<linearGradient id="g13" x1="0" y1="0" x2="0" y2="1"><stop offset="0" stop-color="#F3A56F"/><stop offset=".5" stop-color="#F69655"/><stop offset="1" stop-color="#E2884B"/></linearGradient>
</defs>
<g stroke="#fff" stroke-width="4.2" stroke-linejoin="round">
<path d="M698.00 580.80L698.00 161.30A419.5 419.5 0 0 1 1106.98 487.45Z" fill="url(#g0)"/>
<path d="M698.00 580.80L1106.98 487.45A419.5 419.5 0 0 1 1020.31 849.30Z" fill="url(#g1)"/>
<path d="M698.00 580.80L1020.31 849.30A419.5 419.5 0 0 1 804.41 986.58Z" fill="url(#g2)"/>
<path d="M698.00 580.80L804.41 986.58A419.5 419.5 0 0 1 557.33 976.01Z" fill="url(#g3)"/>
<path d="M698.00 580.80L557.33 976.01A419.5 419.5 0 0 1 426.07 900.23Z" fill="url(#g4)"/>
<path d="M698.00 580.80L426.07 900.23A419.5 419.5 0 0 1 370.02 842.35Z" fill="url(#g5)"/>
<path d="M698.00 580.80L370.02 842.35A419.5 419.5 0 0 1 326.07 774.83Z" fill="url(#g6)"/>
<path d="M698.00 580.80L326.07 774.83A419.5 419.5 0 0 1 295.84 700.16Z" fill="url(#g7)"/>
<path d="M698.00 580.80L295.84 700.16A419.5 419.5 0 0 1 283.88 647.75Z" fill="url(#g8)"/>
<path d="M698.00 580.80L283.88 647.75A419.5 419.5 0 0 1 278.72 594.25Z" fill="url(#g9)"/>
<path d="M698.00 580.80L278.72 594.25A419.5 419.5 0 0 1 279.67 549.45Z" fill="url(#g10)"/>
<path d="M698.00 580.80L279.67 549.45A419.5 419.5 0 0 1 285.40 505.01Z" fill="url(#g11)"/>
<path d="M698.00 580.80L285.40 505.01A419.5 419.5 0 0 1 295.84 461.44Z" fill="url(#g12)"/>
<path d="M698.00 580.80L295.84 461.44A419.5 419.5 0 0 1 698.00 161.30Z" fill="url(#g13)"/>
</g>
</svg>
<h1>历届汉诺杯常规赛、线下赛统计（<span class="dt">2025-11-19</span>）<span class="hy">-</span><span style="letter-spacing:.18px">使用占比（神之吹息制图）</span></h1>
<div class="lb" style="left:951.7px;top:202.0px;">混沌; 63; 21%</div>
<div class="lb" style="left:1134px;top:670.4px;">帝王; 43; 15%</div>
<div class="lb" style="left:890.2px;top:951.4px;"><span style="letter-spacing:.62px">Good Stuff</span>; 29; 10%</div>
<div class="lb" style="left:609.2px;top:1023.3px;">零件; 28; 9%</div>
<div class="lb" style="left:353.5px;top:962.5px;">自闭烧; 17; 6%</div>
<div class="lb" style="left:250.7px;top:883.4px;">不死族; 9; 3%</div>
<div class="lb" style="left:187.5px;top:815.0px;">恶魔族; 9; 3%</div>
<div class="lb" style="left:140.8px;top:735.6px;">推理门; 9; 3%</div>
<div class="lb" style="left:116px;top:666.0px;">地属性; 6; 2%</div>
<div class="lb" style="left:147.2px;top:608.0px;">老I; 6; 2%</div>
<div class="lb" style="left:127.7px;top:553.3px;">守墓; 5; 2%</div>
<div class="lb" style="left:82.9px;top:505.0px;">黑魔术师; 5; 2%</div>
<div class="lb" style="left:117.3px;top:456.0px;">神炎皇; 5; 2%</div>
<div class="lb" style="left:248px;top:170.9px;text-align:center;line-height:29px;">其他（不足2%）; 60;<br>20%</div>
<div class="side">
<div class="sl n">总计：294</div>
<div class="sl ">&nbsp;</div>
<div class="sl "><span class="m" style="letter-spacing:1.2px">408</span>环境规则省流版</div>
<div class="sl ">▷ 采用<span class="y">大师规则<span class="m" >2020</span>（不适用</span></div>
<div class="sl "><span class="y">额外怪兽区）</span></div>
<div class="sl ">▷ 改订前效果<span class="m" >+</span><span class="y">最新裁定</span></div>
<div class="sl ">▷ <span class="m" >2006</span>年<span class="m" >3</span>月限制卡表<span class="m" >+</span><span class="y">第四期</span></div>
<div class="sl ">完整卡池</div>
<div class="sl "><span class="m" style="letter-spacing:3px">*</span>保留经典策略框架，同时规避</div>
<div class="sl ">旧规则复杂度</div>
<div class="sl ">全国②群：<span class="y m" style="margin-left:3px;letter-spacing:.2px">708942347</span></div>
<div class="sl ">引导群（封群备用）：</div>
<div class="sl "><span class="y m" style="letter-spacing:.55px">912340958</span></div>
</div>
</body>
</html>
